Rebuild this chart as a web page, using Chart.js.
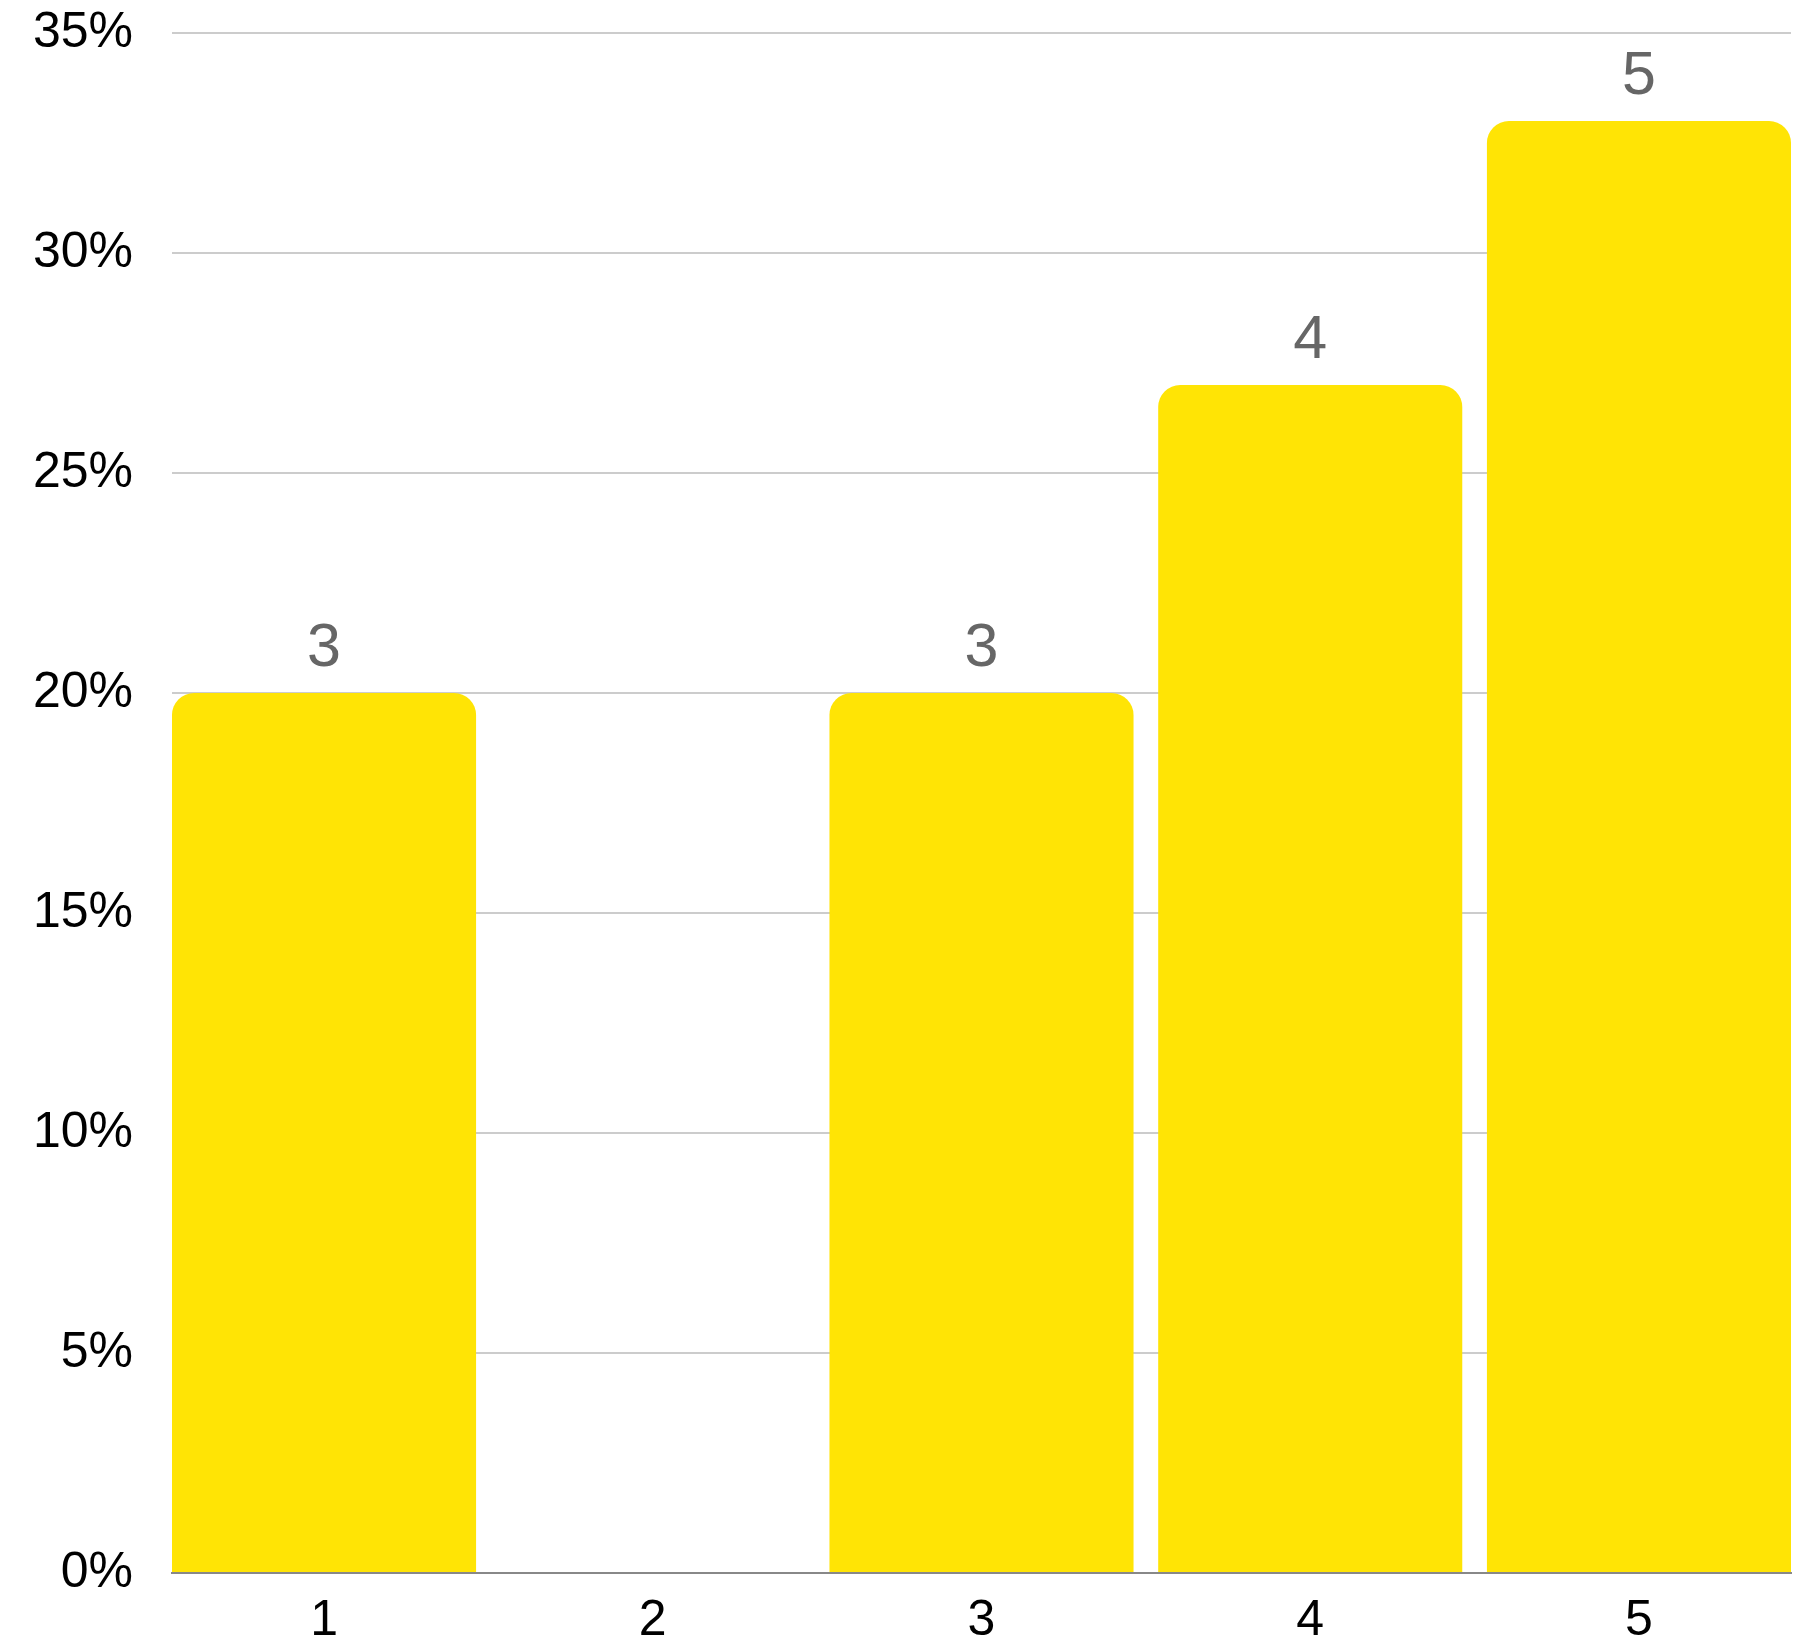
<!DOCTYPE html>
<html>
<head>
<meta charset="utf-8">
<script src="https://cdn.jsdelivr.net/npm/chart.js@4/dist/chart.umd.min.js"></script>
<style>
  html, body { margin: 0; padding: 0; background: #fff; }
  #wrap { width: 1818px; height: 1649px; }
</style>
</head>
<body>
<div id="wrap"><canvas id="ratingChart"></canvas></div>
<script>
const categories = ['1', '2', '3', '4', '5']
const shares = [20, 0, 20, 27, 33]
const counts = [3, 0, 3, 4, 5]
const yTicks = [0, 5, 10, 15, 20, 25, 30, 35]

// counts above each bar (no label when count is 0)
const countLabels = {
    id: 'countLabels',
    afterDatasetsDraw(chart) {
        const ctx = chart.ctx
        const meta = chart.getDatasetMeta(0)
        ctx.save()
        ctx.font = '61px "Liberation Sans", Arial, sans-serif'
        ctx.fillStyle = '#666666'
        ctx.textAlign = 'center'
        ctx.textBaseline = 'alphabetic'
        meta.data.forEach((bar, i) => {
            if (!counts[i]) return
            ctx.fillText(String(counts[i]), bar.x, bar.y - 27)
        })
        ctx.restore()
    },
}

const ctx = document.querySelector('#ratingChart').getContext('2d')

const ratingChart = new Chart(ctx, {
    type: 'bar',
    data: {
        datasets: [
            {
                data: shares.map((v, i) => ({ x: i, y: v })),
                backgroundColor: '#FFE405',
                borderRadius: { topLeft: 22, topRight: 22 },
                borderSkipped: 'start',
                barPercentage: 0.925,
                categoryPercentage: 1,
            },
        ],
    },
    plugins: [countLabels],
    options: {
        responsive: true,
        maintainAspectRatio: false,
        animation: false,
        layout: { padding: { top: 33, right: 27, left: 0, bottom: 0 } },
        plugins: {
            legend: { display: false },
            tooltip: { enabled: false },
        },
        scales: {
            x: {
                type: 'linear',
                offset: false,
                min: -0.4625,
                max: categories.length - 1 + 0.4625,
                afterBuildTicks(scale) { scale.ticks = categories.map((c, i) => ({ value: i })) },
                grid: { display: false, drawTicks: false },
                border: { display: true, color: '#888888', width: 2 },
                ticks: {
                    color: '#000',
                    padding: 18,
                    autoSkip: false,
                    maxRotation: 0,
                    font: { family: '"Liberation Sans", Arial, sans-serif', size: 50 },
                    callback: v => categories[v],
                },
                afterFit(scale) { scale.height = 76 },
            },
            y: {
                min: 0,
                max: 35,
                afterBuildTicks(scale) { scale.ticks = yTicks.map(v => ({ value: v })) },
                grid: { color: '#CCCCCC', lineWidth: 2, drawTicks: false },
                border: { display: false },
                ticks: {
                    color: '#000',
                    padding: 39,
                    font: { family: '"Liberation Sans", Arial, sans-serif', size: 50 },
                    callback: v => v + '%',
                },
                afterFit(scale) {
                    scale.width = 172
                    scale.paddingTop = 0
                    scale.paddingBottom = 0
                },
            },
        },
    },
})
</script>
</body>
</html>
